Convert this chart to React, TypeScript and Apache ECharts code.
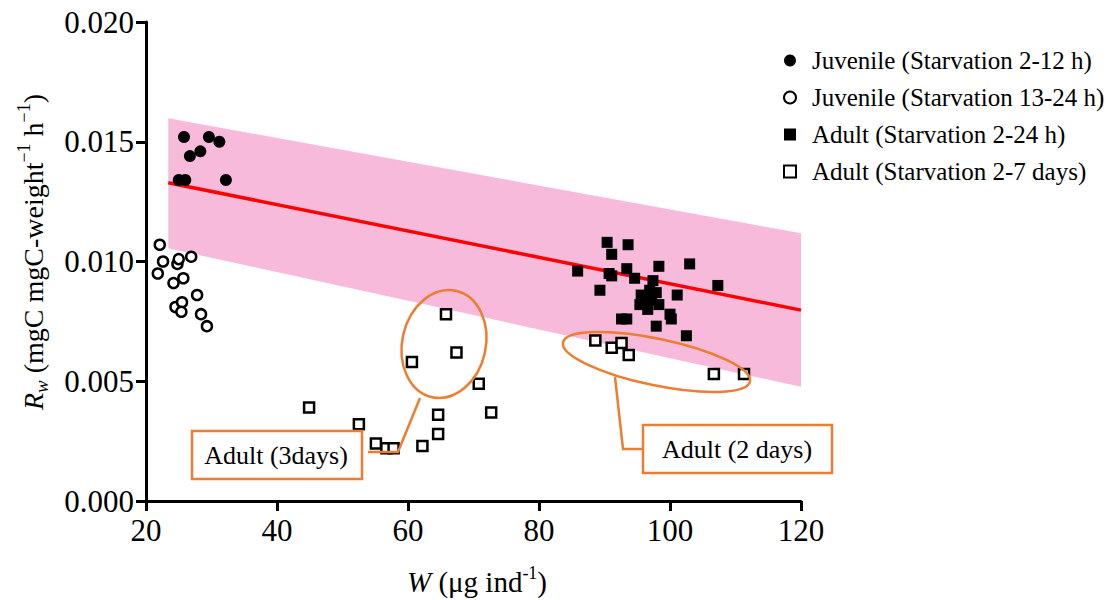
import React, { useEffect, useRef } from 'react';
import * as echarts from 'echarts';

// Body weight W (µg ind-1) and weight-specific respiration Rw, one [W, Rw] pair per individual
const juvenileShort: [number, number][] = [
  [25.8, 0.0152], [29.6, 0.0152], [31.2, 0.0150], [28.3, 0.0146],
  [26.7, 0.0144], [25.0, 0.0134], [26.0, 0.0134], [32.2, 0.0134],
];

const juvenileLong: [number, number][] = [
  [22.1, 0.0107], [22.6, 0.0100], [21.8, 0.0095], [24.2, 0.0091],
  [24.8, 0.0099], [25.0, 0.0101], [26.9, 0.0102], [25.7, 0.0093],
  [27.8, 0.0086], [24.5, 0.0081], [25.5, 0.0083], [25.4, 0.0079],
  [28.4, 0.0078], [29.3, 0.0073],
];

const adultShort: [number, number][] = [
  [90.4, 0.0108], [93.6, 0.0107], [91.1, 0.0103], [85.9, 0.0096],
  [90.7, 0.0095], [91.1, 0.0094], [93.4, 0.0097], [98.3, 0.0098],
  [103.0, 0.0099], [94.6, 0.0093], [97.4, 0.0092], [89.3, 0.0088],
  [95.6, 0.0086], [96.9, 0.0088], [97.9, 0.0087], [101.1, 0.0086],
  [107.3, 0.0090], [95.4, 0.0082], [97.2, 0.0084], [98.3, 0.0082],
  [100.0, 0.0078], [100.2, 0.0076], [92.6, 0.0076], [93.4, 0.0076],
  [97.9, 0.0073], [102.5, 0.0069], [96.1, 0.0084], [96.6, 0.0080],
];

const adultLong: [number, number][] = [
  [44.9, 0.0039], [52.5, 0.0032], [55.1, 0.0024], [56.7, 0.0022],
  [57.8, 0.0022], [62.2, 0.0023], [64.6, 0.0028], [64.6, 0.0036],
  [60.6, 0.0058], [65.8, 0.0078], [67.4, 0.0062], [70.8, 0.0049],
  [72.7, 0.0037], [88.6, 0.0067], [91.1, 0.0064], [92.6, 0.0066],
  [93.7, 0.0061], [106.7, 0.0053], [111.3, 0.0053],
];

// Fitted regression line and its prediction band
const fitW = [23.4, 120];
const fitR = [0.01329, 0.00797];
const bandUpper = [0.01598, 0.01118];
const bandLower = [0.01055, 0.00477];

const xTicks = [20, 40, 60, 80, 100, 120];
const yTicks = [0, 0.005, 0.01, 0.015, 0.02];

const seriesNames = [
  'Juvenile (Starvation 2-12 h)',
  'Juvenile (Starvation 13-24 h)',
  'Adult (Starvation 2-24 h)',
  'Adult (Starvation 2-7 days)',
];

const FONT = 'Liberation Serif';
const ORANGE = '#ED7D31';

export default function App() {
  const ref = useRef<HTMLDivElement>(null);

  useEffect(() => {
    if (!ref.current) return;
    const chart = echarts.init(ref.current, undefined, { renderer: 'svg' });

    const axisCommon = {
      axisLine: { show: true, onZero: false, lineStyle: { color: '#000', width: 3 } },
      axisTick: { show: true, inside: false, length: 10, lineStyle: { color: '#000', width: 3 } },
      splitLine: { show: false },
    };

    const normal = { fontFamily: FONT, fontSize: 28, color: '#000', lineHeight: 36, verticalAlign: 'middle' };
    const italic = { ...normal, fontStyle: 'italic' };
    const sup = { fontFamily: FONT, fontSize: 18, color: '#000', lineHeight: 18, verticalAlign: 'top' };
    const sub = { fontFamily: FONT, fontSize: 19, color: '#000', fontStyle: 'italic', lineHeight: 20, verticalAlign: 'bottom' };
    const normalX = { ...normal, fontSize: 29 };
    const italicX = { ...italic, fontSize: 29 };

    chart.setOption({
      animation: false,
      backgroundColor: '#fff',
      textStyle: { fontFamily: FONT },
      grid: { left: 146, top: 22, width: 655, height: 479, containLabel: false },
      xAxis: {
        type: 'value',
        min: xTicks[0],
        max: xTicks[xTicks.length - 1],
        interval: 20,
        ...axisCommon,
        axisLabel: { margin: 14, fontFamily: FONT, fontSize: 31, color: '#000' },
      },
      yAxis: {
        type: 'value',
        min: yTicks[0],
        max: yTicks[yTicks.length - 1],
        interval: 0.005,
        ...axisCommon,
        axisLabel: {
          margin: 12,
          fontFamily: FONT,
          fontSize: 31,
          color: '#000',
          formatter: (v: number) => v.toFixed(3),
        },
      },
      legend: {
        data: seriesNames,
        orient: 'vertical',
        left: 778,
        top: 43,
        itemWidth: 12,
        itemHeight: 12,
        itemGap: 12,
        textStyle: { fontFamily: FONT, fontSize: 25, color: '#000', lineHeight: 24, padding: [0, 0, 0, 11] },
      },
      series: [
        {
          type: 'custom',
          silent: true,
          z: 1,
          renderItem: (_params: any, api: any) => {
            const pts: number[][] = [];
            fitW.forEach((w, i) => pts.push(api.coord([w, bandUpper[i]])));
            for (let i = fitW.length - 1; i >= 0; i--) pts.push(api.coord([fitW[i], bandLower[i]]));
            return { type: 'polygon', shape: { points: pts }, style: { fill: '#F7BADB' } };
          },
          data: [[fitW[0], bandUpper[0]]],
        },
        {
          type: 'line',
          silent: true,
          z: 2,
          symbol: 'none',
          data: fitW.map((w, i) => [w, fitR[i]]),
          lineStyle: { color: '#FF0000', width: 3.5 },
        },
        {
          name: seriesNames[0],
          type: 'scatter',
          z: 3,
          symbol: 'circle',
          symbolSize: 12,
          data: juvenileShort,
          itemStyle: { color: '#000', opacity: 1 },
        },
        {
          name: seriesNames[1],
          type: 'scatter',
          z: 3,
          symbol: 'circle',
          symbolSize: 10,
          data: juvenileLong,
          itemStyle: { color: '#fff', borderColor: '#000', borderWidth: 2.5, opacity: 1 },
        },
        {
          name: seriesNames[2],
          type: 'scatter',
          z: 3,
          symbol: 'rect',
          symbolSize: 11,
          data: adultShort,
          itemStyle: { color: '#000', opacity: 1 },
        },
        {
          name: seriesNames[3],
          type: 'scatter',
          z: 3,
          symbol: 'rect',
          symbolSize: 10,
          data: adultLong,
          itemStyle: { color: '#fff', borderColor: '#000', borderWidth: 2.5, opacity: 1 },
        },
      ],
      graphic: [
        // Axis titles
        {
          type: 'text',
          x: 33,
          y: 252,
          rotation: Math.PI / 2,
          style: {
            text: '{i|R}{s|w}{n| (mgC mgC-weight}{p|−1}{n| h}{p|−1}{n|)}',
            rich: { i: italic, s: sub, n: normal, p: sup },
            align: 'center',
            verticalAlign: 'middle',
            fontFamily: FONT,
          },
        },
        {
          type: 'text',
          x: 477,
          y: 582,
          style: {
            text: '{i|W}{n| (μg ind}{p|-1}{n|)}',
            rich: { i: italicX, n: normalX, p: sup },
            align: 'center',
            verticalAlign: 'middle',
            fontFamily: FONT,
          },
        },
        // Callout: adults after 3 days
        {
          type: 'ellipse',
          x: 444,
          y: 344,
          rotation: -0.22,
          shape: { cx: 0, cy: 0, rx: 41.8, ry: 54.5 },
          style: { fill: 'none', stroke: ORANGE, lineWidth: 2.5 },
          z: 10,
        },
        {
          type: 'polyline',
          shape: { points: [[368, 452], [398, 452], [420, 398]] },
          style: { fill: 'none', stroke: ORANGE, lineWidth: 2.5 },
          z: 10,
        },
        {
          type: 'rect',
          shape: { x: 192, y: 431, width: 170, height: 48 },
          style: { fill: '#fff', stroke: ORANGE, lineWidth: 2.5 },
          z: 10,
        },
        {
          type: 'text',
          x: 276,
          y: 455,
          style: { text: 'Adult (3days)', fontFamily: FONT, fontSize: 26, fill: '#000', align: 'center', verticalAlign: 'middle' },
          z: 11,
        },
        // Callout: adults after 2 days
        {
          type: 'ellipse',
          x: 656.5,
          y: 362,
          rotation: -0.206,
          shape: { cx: 0, cy: 0, rx: 95.5, ry: 23.3 },
          style: { fill: 'none', stroke: ORANGE, lineWidth: 2.5 },
          z: 10,
        },
        {
          type: 'polyline',
          shape: { points: [[615, 377], [623, 449], [643, 449]] },
          style: { fill: 'none', stroke: ORANGE, lineWidth: 2.5 },
          z: 10,
        },
        {
          type: 'rect',
          shape: { x: 643, y: 425, width: 189, height: 48 },
          style: { fill: '#fff', stroke: ORANGE, lineWidth: 2.5 },
          z: 10,
        },
        {
          type: 'text',
          x: 737,
          y: 449,
          style: { text: 'Adult (2 days)', fontFamily: FONT, fontSize: 26, fill: '#000', align: 'center', verticalAlign: 'middle' },
          z: 11,
        },
      ],
    });

    return () => chart.dispose();
  }, []);

  return (
    <div
      ref={ref}
      style={{ position: 'fixed', left: 0, top: 0, width: 1117, height: 600, background: '#fff' }}
    />
  );
}
